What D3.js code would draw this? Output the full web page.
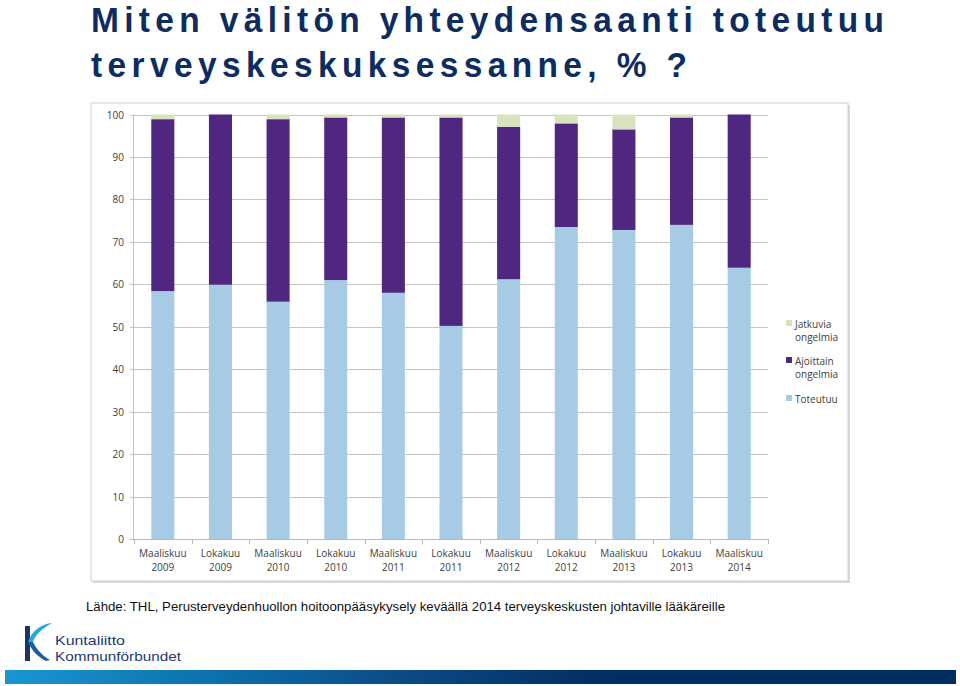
<!DOCTYPE html>
<html>
<head>
<meta charset="utf-8">
<script src="https://cdn.jsdelivr.net/npm/d3@7/dist/d3.min.js"></script>
<style>
  html, body { margin: 0; padding: 0; background: #ffffff; }
  svg { display: block; }
</style>
</head>
<body>
<svg id="chart" width="960" height="686"></svg>
<script>
// ---- Data ----
const months = ["Maaliskuu", "Lokakuu", "Maaliskuu", "Lokakuu", "Maaliskuu", "Lokakuu",
                "Maaliskuu", "Lokakuu", "Maaliskuu", "Lokakuu", "Maaliskuu"];
const years = ["2009", "2009", "2010", "2010", "2011", "2011", "2012", "2012", "2013", "2013", "2014"];
const toteutuu = [58.4, 59.9, 55.9, 61.0, 58.0, 50.2, 61.2, 73.5, 72.8, 74.0, 63.9];
const ajoittain = [40.5, 40.1, 43.0, 38.3, 41.3, 49.1, 35.9, 24.4, 23.7, 25.3, 36.1];
const jatkuvia  = [1.1, 0.0, 1.1, 0.7, 0.7, 0.7, 2.9, 2.1, 3.5, 0.7, 0.0];
const yTicks = [0, 10, 20, 30, 40, 50, 60, 70, 80, 90, 100];
const seriesNames = ["Toteutuu", "Ajoittain ongelmia", "Jatkuvia ongelmia"];
const legendLines = [["Jatkuvia", "ongelmia"], ["Ajoittain", "ongelmia"], ["Toteutuu"]];

const titleLines = ["Miten välitön yhteydensaanti toteutuu", "terveyskeskuksessanne, % ?"];
const sourceText = "Lähde: THL, Perusterveydenhuollon hoitoonpääsykysely keväällä 2014  terveyskeskusten johtaville lääkäreille";

// ---- Setup ----
const svg = d3.select("#chart");
const colors = { "Toteutuu": "#a8cbe5", "Ajoittain ongelmia": "#4f2780", "Jatkuvia ongelmia": "#d6e3bc" };
const cats = months.map((m, i) => i);

const rows = cats.map(i => ({
  i,
  "Toteutuu": toteutuu[i],
  "Ajoittain ongelmia": ajoittain[i],
  "Jatkuvia ongelmia": jatkuvia[i]
}));

// Title (slightly narrowed glyphs, wide spacing)
const sx = 0.93, sy = 1.0;
const title = svg.append("g").attr("font-family", "'Liberation Sans', Arial, sans-serif")
  .attr("font-weight", "bold").attr("font-size", 36).attr("fill", "#0e2c5f");
title.append("text").attr("transform", `translate(91,32) scale(${sx},${sy})`)
  .attr("textLength", 793 / sx).attr("lengthAdjust", "spacing").text(titleLines[0]);
title.append("text").attr("transform", `translate(91,77) scale(${sx},${sy})`)
  .attr("textLength", 596 / sx).attr("lengthAdjust", "spacing").text(titleLines[1]);

// Chart frame (with slight shadow)
svg.append("rect").attr("x", 93).attr("y", 105).attr("width", 757).attr("height", 478).attr("fill", "#d9d9d9");
svg.append("rect").attr("x", 91).attr("y", 103).attr("width", 757).attr("height", 478)
  .attr("fill", "#ffffff").attr("stroke", "#d0d0d0").attr("stroke-width", 1);

// Scales
const x = d3.scaleBand().domain(cats).range([134, 768]).paddingInner(0.6).paddingOuter(0.3);
const y = d3.scaleLinear().domain([0, 100]).range([539, 114.5]);

// Gridlines
const gy = svg.append("g");
gy.selectAll("line").data(yTicks.filter(t => t > 0)).join("line")
  .attr("x1", 130).attr("x2", 768)
  .attr("y1", d => Math.round(y(d)) + 0.5).attr("y2", d => Math.round(y(d)) + 0.5)
  .attr("stroke", "#c4c4c4").attr("stroke-width", 1);

// Y axis labels
const yAxis = d3.axisLeft(y).tickValues(yTicks).tickSize(0).tickPadding(0);
const ya = svg.append("g").attr("transform", "translate(124,0)").call(yAxis);
ya.select(".domain").remove();
ya.selectAll("text").attr("font-family", "'Open Sans', 'Liberation Sans', sans-serif")
  .attr("font-size", 10).attr("fill", "#404040").attr("dy", "0.35em");

// Vertical axis line
svg.append("line").attr("x1", 133.5).attr("x2", 133.5).attr("y1", 114.5).attr("y2", 539)
  .attr("stroke", "#c4c4c4");

// Bars
const stack = d3.stack().keys(seriesNames);
const stacked = stack(rows);
svg.append("g").selectAll("g").data(stacked).join("g")
  .attr("fill", d => colors[d.key])
  .selectAll("rect").data(d => d).join("rect")
  .attr("x", d => x(d.data.i))
  .attr("width", x.bandwidth())
  .attr("y", d => y(d[1]))
  .attr("height", d => Math.max(0, y(d[0]) - y(d[1])));

// X axis line and ticks
svg.append("line").attr("x1", 130).attr("x2", 768).attr("y1", 539.5).attr("y2", 539.5).attr("stroke", "#b8b8b8");
const step = x.step();
const boundaries = d3.range(0, cats.length + 1).map(k => 134 + k * step);
svg.append("g").selectAll("line").data(boundaries).join("line")
  .attr("x1", d => Math.round(d) + 0.5).attr("x2", d => Math.round(d) + 0.5)
  .attr("y1", 539).attr("y2", 544).attr("stroke", "#b8b8b8");

// X labels
const xl = svg.append("g").attr("font-family", "'Open Sans', 'Liberation Sans', sans-serif")
  .attr("font-size", 10).attr("fill", "#404040").attr("text-anchor", "middle");
xl.selectAll("text.m").data(cats).join("text").attr("class", "m")
  .attr("x", d => x(d) + x.bandwidth() / 2).attr("y", 557).text(d => months[d]);
xl.selectAll("text.y").data(cats).join("text").attr("class", "y")
  .attr("x", d => x(d) + x.bandwidth() / 2).attr("y", 571).text(d => years[d]);

// Legend
const legendKeys = ["Jatkuvia ongelmia", "Ajoittain ongelmia", "Toteutuu"];
const legendY = [324, 361, 399];
const lg = svg.append("g").attr("font-family", "'Open Sans', 'Liberation Sans', sans-serif")
  .attr("font-size", 10).attr("fill", "#404040");
legendKeys.forEach((k, i) => {
  lg.append("rect").attr("x", 786).attr("y", legendY[i] - 4).attr("width", 6).attr("height", 6).attr("fill", colors[k]);
  legendLines[i].forEach((ln, j) => {
    lg.append("text").attr("x", 795).attr("y", legendY[i] + j * 13.5).attr("dy", "0.35em").text(ln);
  });
});

// Source text
svg.append("text").attr("x", 86).attr("y", 611)
  .attr("font-family", "'Liberation Sans', Arial, sans-serif").attr("font-size", 13).attr("fill", "#111")
  .attr("textLength", 639).attr("lengthAdjust", "spacingAndGlyphs").text(sourceText);

// Logo
const logo = svg.append("g");
logo.append("rect").attr("x", 25).attr("y", 626).attr("width", 5).attr("height", 35).attr("fill", "#1b3566");
// upper light-blue arm
logo.append("path").attr("d", "M52,623 C42,624 32,630 28,642 L33,642 C36,634 43,628 52,623 Z").attr("fill", "#2ea6dc");
// lower darker arm
logo.append("path").attr("d", "M28,642 L33,642 C37,650 43,656 50,660 L46,661 C38,657 32,651 28,642 Z").attr("fill", "#1a5f9c");
const lt = logo.append("g").attr("font-family", "'Liberation Sans', Arial, sans-serif")
  .attr("font-size", 13.5).attr("fill", "#1d3a6d");
lt.append("text").attr("x", 55).attr("y", 645).attr("textLength", 70).attr("lengthAdjust", "spacingAndGlyphs").text("Kuntaliitto");
lt.append("text").attr("x", 55).attr("y", 661).attr("textLength", 126).attr("lengthAdjust", "spacingAndGlyphs").text("Kommunförbundet");

// Bottom gradient bar
const defs = svg.append("defs");
const grad = defs.append("linearGradient").attr("id", "bar").attr("x1", "0%").attr("x2", "100%");
grad.append("stop").attr("offset", "0%").attr("stop-color", "#1a96d2");
grad.append("stop").attr("offset", "20%").attr("stop-color", "#0c74b0");
grad.append("stop").attr("offset", "42%").attr("stop-color", "#0b4a86");
grad.append("stop").attr("offset", "62%").attr("stop-color", "#022f63");
grad.append("stop").attr("offset", "100%").attr("stop-color", "#012d60");
svg.append("rect").attr("x", 5).attr("y", 670).attr("width", 951).attr("height", 14).attr("fill", "url(#bar)");
</script>
</body>
</html>
